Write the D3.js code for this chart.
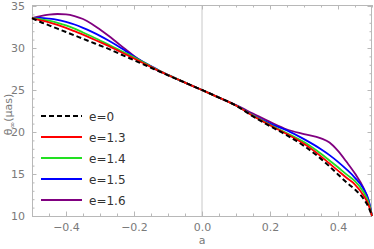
<!DOCTYPE html>
<html>
<head>
<meta charset="utf-8">
<script src="https://cdn.jsdelivr.net/npm/d3@7"></script>
<style>
  body { margin: 0; background: #fff; }
  svg text { font-family: "DejaVu Sans", sans-serif; }
</style>
</head>
<body>
<div id="chart"></div>
<script>
// spin parameter a
const aValues = [-0.5, -0.475, -0.45, -0.425, -0.4, -0.375, -0.35, -0.325, -0.3, -0.275, -0.25, -0.225, -0.2, -0.175, -0.15, -0.125, -0.1, -0.05, 0,
  0.05, 0.1, 0.15, 0.2, 0.25, 0.3, 0.35, 0.375, 0.4, 0.425, 0.45, 0.475, 0.49, 0.5];

// theta_inf (micro arcsec) for each e
const e0  = [33.55, 33.1, 32.7, 32.3, 31.9, 31.5, 31.1, 30.7, 30.3, 29.9, 29.45, 29.0, 28.55, 28.1, 27.65, 27.2, 26.75, 25.88, 25.0,
  24.1, 23.15, 21.85, 20.7, 19.6, 18.35, 16.8, 15.9, 14.95, 14.0, 13.15, 12.05, 11.05, 10.0];
const e13 = [33.55, 33.3, 33.05, 32.75, 32.4, 32.0, 31.6, 31.15, 30.7, 30.25, 29.75, 29.25, 28.75, 28.25, 27.75, 27.25, 26.78, 25.88, 25.0,
  24.1, 23.15, 21.9, 20.8, 19.75, 18.6, 17.1, 16.25, 15.4, 14.55, 13.75, 12.45, 11.3, 10.0];
const e14 = [33.55, 33.45, 33.25, 33.0, 32.7, 32.3, 31.85, 31.4, 30.9, 30.4, 29.9, 29.4, 28.9, 28.35, 27.8, 27.28, 26.8, 25.88, 25.0,
  24.1, 23.15, 21.95, 20.85, 19.85, 18.8, 17.4, 16.6, 15.8, 14.95, 14.15, 12.85, 11.6, 10.0];
const e15 = [33.55, 33.58, 33.5, 33.35, 33.1, 32.8, 32.4, 31.95, 31.45, 30.9, 30.3, 29.65, 29.0, 28.4, 27.85, 27.3, 26.8, 25.88, 25.0,
  24.1, 23.17, 22.0, 21.0, 20.2, 19.15, 17.95, 17.25, 16.45, 15.55, 14.55, 13.25, 11.9, 10.0];
const e16 = [33.55, 33.8, 33.98, 34.05, 34.0, 33.8, 33.45, 32.9, 32.2, 31.45, 30.65, 29.85, 29.05, 28.35, 27.75, 27.22, 26.78, 25.88, 25.0,
  24.1, 23.2, 22.2, 21.2, 20.3, 19.75, 19.25, 18.75, 17.75, 16.45, 15.05, 13.35, 11.8, 10.0];

const seriesNames = ["e=0", "e=1.3", "e=1.4", "e=1.5", "e=1.6"];
const seriesValues = [e0, e13, e14, e15, e16];
const seriesColors = ["#000000", "#ff0000", "#22e022", "#0000ff", "#800080"];

const xTicks = [-0.4, -0.2, 0.0, 0.2, 0.4];
const yTicks = [10, 15, 20, 25, 30, 35];

const width = 374, height = 249;
const margin = {top: 5, right: 2, bottom: 33, left: 32};

const svg = d3.select("#chart").append("svg")
  .attr("width", width)
  .attr("height", height);

const x = d3.scaleLinear().domain([-0.5, 0.5]).range([margin.left, width - margin.right]);
const y = d3.scaleLinear().domain([10, 35.12]).range([height - margin.bottom, margin.top]);

const frameColor = "#b8b8b8";
const labelColor = "#7a7a7a";

// vertical axis line at a = 0
svg.append("line")
  .attr("x1", x(0)).attr("x2", x(0))
  .attr("y1", y.range()[1]).attr("y2", y.range()[0])
  .attr("stroke", "#c8c8c8").attr("stroke-width", 1);

// frame
svg.append("rect")
  .attr("x", x.range()[0] + 0.5)
  .attr("y", y.range()[1] + 0.5)
  .attr("width", x.range()[1] - x.range()[0] - 1)
  .attr("height", y.range()[0] - y.range()[1])
  .attr("fill", "none")
  .attr("stroke", frameColor);

// ticks (inward, on all four sides)
const xMinor = d3.range(-0.5, 0.5001, 0.05).map(d => +d.toFixed(2));
const yMinor = d3.range(10, 35.001, 1);

function addAxis(axis, transform, cls) {
  const g = svg.append("g").attr("transform", transform).attr("class", cls).call(axis);
  g.select(".domain").remove();
  g.selectAll(".tick line").attr("stroke", frameColor);
  g.selectAll(".tick text").attr("fill", labelColor).style("font-size", "11px");
  return g;
}

const y0 = y.range()[0], y1 = y.range()[1];
const x0 = x.range()[0], x1 = x.range()[1];

// minor
addAxis(d3.axisBottom(x).tickValues(xMinor).tickSize(-2.5).tickFormat(""), `translate(0,${y0})`, "xm");
addAxis(d3.axisTop(x).tickValues(xMinor).tickSize(-2.5).tickFormat(""), `translate(0,${y1})`, "xm2");
addAxis(d3.axisLeft(y).tickValues(yMinor).tickSize(-2.5).tickFormat(""), `translate(${x0},0)`, "ym");
addAxis(d3.axisRight(y).tickValues(yMinor).tickSize(-2.5).tickFormat(""), `translate(${x1},0)`, "ym2");
// major
addAxis(d3.axisBottom(x).tickValues(xTicks).tickSize(-4.5).tickPadding(7).tickFormat(d3.format(".1f")), `translate(0,${y0})`, "xM");
addAxis(d3.axisTop(x).tickValues(xTicks).tickSize(-4.5).tickFormat(""), `translate(0,${y1})`, "xM2");
addAxis(d3.axisLeft(y).tickValues(yTicks).tickSize(-4.5).tickPadding(7).tickFormat(d3.format("d")), `translate(${x0},0)`, "yM");
addAxis(d3.axisRight(y).tickValues(yTicks).tickSize(-4.5).tickFormat(""), `translate(${x1},0)`, "yM2");

// curves
const line = d3.line()
  .x((d, i) => x(aValues[i]))
  .y(d => y(d))
  .curve(d3.curveMonotoneX);

const plot = svg.append("g");
// draw coloured curves first (largest e at bottom), dashed e=0 on top
[4, 3, 2, 1].forEach(k => {
  plot.append("path")
    .datum(seriesValues[k])
    .attr("fill", "none")
    .attr("stroke", seriesColors[k])
    .attr("stroke-width", 1.8)
    .attr("d", line);
});
plot.append("path")
  .datum(seriesValues[0])
  .attr("fill", "none")
  .attr("stroke", seriesColors[0])
  .attr("stroke-width", 2)
  .attr("stroke-dasharray", "5,3")
  .attr("d", line);

// legend
const legend = svg.append("g").attr("transform", "translate(41,116)");
seriesNames.forEach((name, i) => {
  const row = legend.append("g").attr("transform", `translate(0,${i * 21})`);
  row.append("line")
    .attr("x1", 0).attr("x2", 41)
    .attr("stroke", seriesColors[i])
    .attr("stroke-width", i === 0 ? 2 : 1.8)
    .attr("stroke-dasharray", i === 0 ? "5,3" : null);
  row.append("text")
    .attr("x", 48).attr("y", 4.5)
    .style("font-size", "12px")
    .attr("fill", "#333")
    .text(name);
});

// axis labels
svg.append("text")
  .attr("x", x(0)).attr("y", 244)
  .attr("text-anchor", "middle")
  .attr("fill", labelColor)
  .style("font-size", "11px")
  .text("a");

const yLab = svg.append("text")
  .attr("transform", `translate(12,${(y0 + y1) / 2 + 4}) rotate(-90)`)
  .attr("text-anchor", "middle")
  .attr("fill", labelColor)
  .style("font-size", "11px");
yLab.append("tspan").text("θ");
yLab.append("tspan").attr("dy", 3).style("font-size", "8px").text("∞");
yLab.append("tspan").attr("dy", -3).text("(μas)");
</script>
</body>
</html>
